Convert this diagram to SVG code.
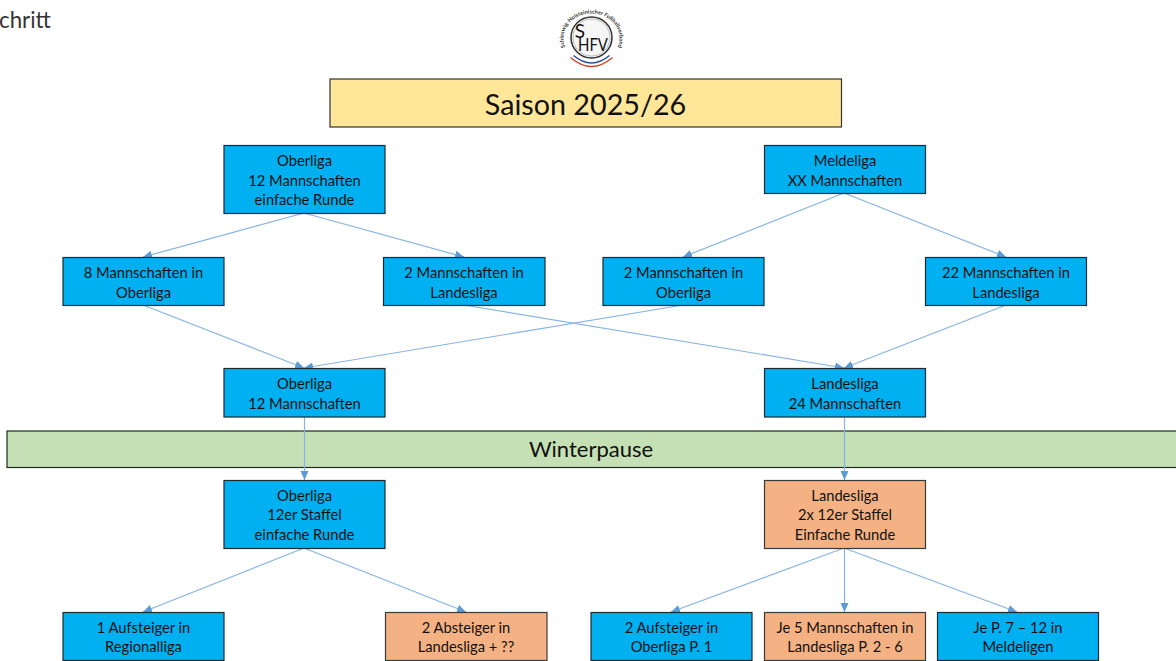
<svg xmlns="http://www.w3.org/2000/svg" width="1176" height="661" viewBox="0 0 1176 661">
<style>
text{font-family:"Lato","Noto Sans",sans-serif;fill:#111;text-anchor:middle;font-size:14.7px}
.b{fill:#00b0f0;stroke:#1c2b33;stroke-width:1.2}
.o{fill:#f4b183;stroke:#3a3a3a;stroke-width:1.2}
.c{stroke:#85b4e6;stroke-width:1.2;fill:none;marker-end:url(#a)}
</style>
<defs>
<marker id="a" markerUnits="userSpaceOnUse" markerWidth="10" markerHeight="10" refX="9" refY="4" orient="auto"><path d="M0 0L9 4L0 8Z" fill="#5b9bd5"/></marker>
<path id="arc" d="M568 52A28 25 0 1 1 615 52"/>
</defs>
<rect width="1176" height="661" fill="#fff"/>
<text x="-1" y="28" style="text-anchor:start;font-size:22.300px;fill:#333">chritt</text>
<g id="logo">
<circle cx="591.500" cy="37.500" r="20.500" fill="#f6f6f6" stroke="#333" stroke-width="1.500"/>
<circle cx="591.500" cy="37.500" r="18.500" fill="none" stroke="#999" stroke-width=".6"/>
<text style="font-size:5.500px;font-weight:700;fill:#333"><textPath href="#arc" startOffset="50%">Schleswig-Holsteinischer Fußballverband</textPath></text>
<text x="580" y="38" style="font-size:19px;fill:#111">S</text>
<text x="593" y="50.500" textLength="30" lengthAdjust="spacingAndGlyphs" style="font-size:18px;fill:#111">HFV</text>
<path d="M570.500 57.500Q591.500 75.500 612.500 57.500" fill="none" stroke="#d9452f" stroke-width="1.500"/>
<path d="M573.500 55.500Q591.500 70.500 609.500 55.500" fill="none" stroke="#2c4f9c" stroke-width="1.500"/>
</g>
<g id="saison"><rect x="330" y="79" width="511.500" height="48" fill="#ffe699" stroke="#333" stroke-width="1.2"/><text x="585.500" y="114.500" style="font-size:28.700px">Saison 2025/26</text></g>
<g id="winterpause"><rect x="7" y="431" width="1170" height="36.500" fill="#c5e0b4" stroke="#1f2a1f" stroke-width="1.2"/><text x="591" y="457" style="font-size:22px">Winterpause</text></g>
<g id="connectors">
<path class="c" d="M304 213L143 257"/>
<path class="c" d="M304 213L464 257"/>
<path class="c" d="M844 193L683 257"/>
<path class="c" d="M844 193L1006 257"/>
<path class="c" d="M143 305L304 368"/>
<path class="c" d="M683 305L304 368"/>
<path class="c" d="M464 305L844 368"/>
<path class="c" d="M1006 305L844 368"/>
<path class="c" d="M304.500 417V480"/>
<path class="c" d="M844.500 417V480"/>
<path class="c" d="M304 548L143 612"/>
<path class="c" d="M304 548L466 612"/>
<path class="c" d="M844 548L671 612"/>
<path class="c" d="M844.500 548V612"/>
<path class="c" d="M844 548L1017 612"/>
</g>
<g id="n1"><rect class="b" x="224" y="145.500" width="161" height="68"/><text x="304.500" y="165.500">Oberliga</text><text x="304.500" y="185.500">12 Mannschaften</text><text x="304.500" y="204.500">einfache Runde</text></g>
<g id="n2"><rect class="b" x="764.500" y="145.500" width="161" height="48"/><text x="845" y="165.500">Meldeliga</text><text x="845" y="185.500">XX Mannschaften</text></g>
<g id="n3"><rect class="b" x="63" y="257.500" width="161" height="48"/><text x="143.500" y="277.500">8 Mannschaften in</text><text x="143.500" y="297.500">Oberliga</text></g>
<g id="n4"><rect class="b" x="383.500" y="257.500" width="161.500" height="48"/><text x="464" y="277.500">2 Mannschaften in</text><text x="464" y="297.500">Landesliga</text></g>
<g id="n5"><rect class="b" x="603" y="257.500" width="161" height="48"/><text x="683.500" y="277.500">2 Mannschaften in</text><text x="683.500" y="297.500">Oberliga</text></g>
<g id="n6"><rect class="b" x="925.500" y="257.500" width="161" height="48"/><text x="1006" y="277.500">22 Mannschaften in</text><text x="1006" y="297.500">Landesliga</text></g>
<g id="n7"><rect class="b" x="224" y="368.500" width="161" height="48.500"/><text x="304.500" y="388.500">Oberliga</text><text x="304.500" y="408.500">12 Mannschaften</text></g>
<g id="n8"><rect class="b" x="764.500" y="368.500" width="161" height="48.500"/><text x="845" y="388.500">Landesliga</text><text x="845" y="408.500">24 Mannschaften</text></g>
<g id="n9"><rect class="b" x="224" y="480.500" width="161" height="68"/><text x="304.500" y="500.500">Oberliga</text><text x="304.500" y="519.500">12er Staffel</text><text x="304.500" y="539.500">einfache Runde</text></g>
<g id="n10"><rect class="o" x="764.500" y="480.500" width="161" height="68"/><text x="845" y="500.500">Landesliga</text><text x="845" y="519.500">2x 12er Staffel</text><text x="845" y="539.500">Einfache Runde</text></g>
<g id="n11"><rect class="b" x="63" y="612.500" width="161" height="48"/><text x="143.500" y="632.500">1 Aufsteiger in</text><text x="143.500" y="652">Regionalliga</text></g>
<g id="n12"><rect class="o" x="385.500" y="612.500" width="161.500" height="48"/><text x="466" y="632.500">2 Absteiger in</text><text x="466" y="652">Landesliga + ??</text></g>
<g id="n13"><rect class="b" x="591" y="612.500" width="161" height="48"/><text x="671.500" y="632.500">2 Aufsteiger in</text><text x="671.500" y="652">Oberliga P. 1</text></g>
<g id="n14"><rect class="o" x="764.500" y="612.500" width="161" height="48"/><text x="845" y="632.500">Je 5 Mannschaften in</text><text x="845" y="652">Landesliga P. 2 - 6</text></g>
<g id="n15"><rect class="b" x="937.500" y="612.500" width="161" height="48"/><text x="1018" y="632.500">Je P. 7 – 12 in</text><text x="1018" y="652">Meldeligen</text></g>
</svg>
